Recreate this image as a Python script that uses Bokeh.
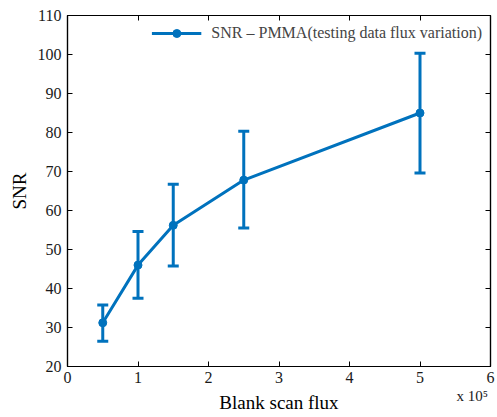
from bokeh.plotting import figure
from bokeh.models import ColumnDataSource, Whisker, TeeHead, LinearAxis, Range1d, FixedTicker
from bokeh.embed import file_html
from bokeh.resources import INLINE

flux = [0.5, 1.0, 1.5, 2.5, 5.0]
snr = [31.2, 46.0, 56.2, 67.8, 85.0]
snr_upper = [35.8, 54.6, 66.7, 80.3, 100.3]
snr_lower = [26.5, 37.5, 45.8, 55.5, 69.6]
x_ticks = [0, 1, 2, 3, 4, 5, 6]
y_ticks = [20, 30, 40, 50, 60, 70, 80, 90, 100, 110]
x_scale_text = "x 10\u2075"
x_scale_pos = 5.74

BLUE = "#0072BD"
FONT = "'Liberation Serif'"

src = ColumnDataSource(dict(x=flux, y=snr, upper=snr_upper, lower=snr_lower))

p = figure(width=497, height=417, output_backend="svg", toolbar_location=None,
           x_range=Range1d(0, 6), y_range=Range1d(20, 110),
           min_border_left=67, min_border_right=7, min_border_top=15, min_border_bottom=51)
p.background_fill_color = "white"
p.border_fill_color = "white"
p.outline_line_color = "black"
p.outline_line_width = 1.2
p.xgrid.visible = False
p.ygrid.visible = False

p.xaxis.ticker = FixedTicker(ticks=x_ticks)
p.yaxis.ticker = FixedTicker(ticks=y_ticks)
for axes in (p.xaxis, p.yaxis):
    axes.major_tick_in = 5
    axes.major_tick_out = 0
    axes.minor_tick_line_color = None
    axes.major_label_text_font = FONT
    axes.major_label_text_font_size = "16px"
    axes.major_label_text_color = "#1a1a1a"
    axes.axis_label_text_font = FONT
    axes.axis_label_text_font_size = "19px"
    axes.axis_label_text_font_style = "normal"
    axes.axis_label_text_color = "black"
    axes.axis_line_width = 1.2

p.yaxis.axis_label = "SNR"
p.xaxis.major_label_standoff = 5
p.yaxis.major_label_standoff = 6

# second bottom axis: carries the "x 10^5" multiplier and the x-axis title
ax2 = LinearAxis(ticker=FixedTicker(ticks=[x_scale_pos]),
                 major_label_overrides={x_scale_pos: x_scale_text},
                 axis_line_color=None, major_tick_line_color=None, minor_tick_line_color=None,
                 major_tick_in=0, major_tick_out=0,
                 major_label_standoff=2,
                 major_label_text_font=FONT, major_label_text_font_size="15px",
                 major_label_text_color="#1a1a1a",
                 axis_label="Blank scan flux", axis_label_standoff=-15,
                 axis_label_text_font=FONT, axis_label_text_font_size="19px",
                 axis_label_text_font_style="normal", axis_label_text_color="black")
p.add_layout(ax2, "below")

for loc, ticks in (("above", x_ticks), ("right", y_ticks)):
    a = LinearAxis(ticker=FixedTicker(ticks=ticks), major_tick_in=5, major_tick_out=0,
                   minor_tick_line_color=None, major_label_overrides={t: "" for t in ticks},
                   major_label_text_font_size="8px", major_label_text_color=None,
                   major_label_standoff=0, axis_line_width=1.2)
    p.add_layout(a, loc)

whisk = Whisker(base="x", upper="upper", lower="lower", source=src,
                line_color=BLUE, line_width=3,
                upper_head=TeeHead(size=11, line_color=BLUE, line_width=3),
                lower_head=TeeHead(size=11, line_color=BLUE, line_width=3))
p.add_layout(whisk)

label = "SNR \u2013 PMMA(testing data flux variation)"
p.line("x", "y", source=src, line_color=BLUE, line_width=3, legend_label=label)
p.scatter("x", "y", source=src, marker="circle", size=8, fill_color=BLUE, line_color=BLUE,
          legend_label=label)

p.legend.location = "top_right"
p.legend.border_line_color = None
p.legend.background_fill_alpha = 0
p.legend.label_text_font = FONT
p.legend.label_text_font_size = "16px"
p.legend.glyph_width = 50
p.legend.margin = 8
p.legend.padding = 4
p.legend.label_standoff = 10

open("out.html", "w").write(file_html(p, INLINE))
